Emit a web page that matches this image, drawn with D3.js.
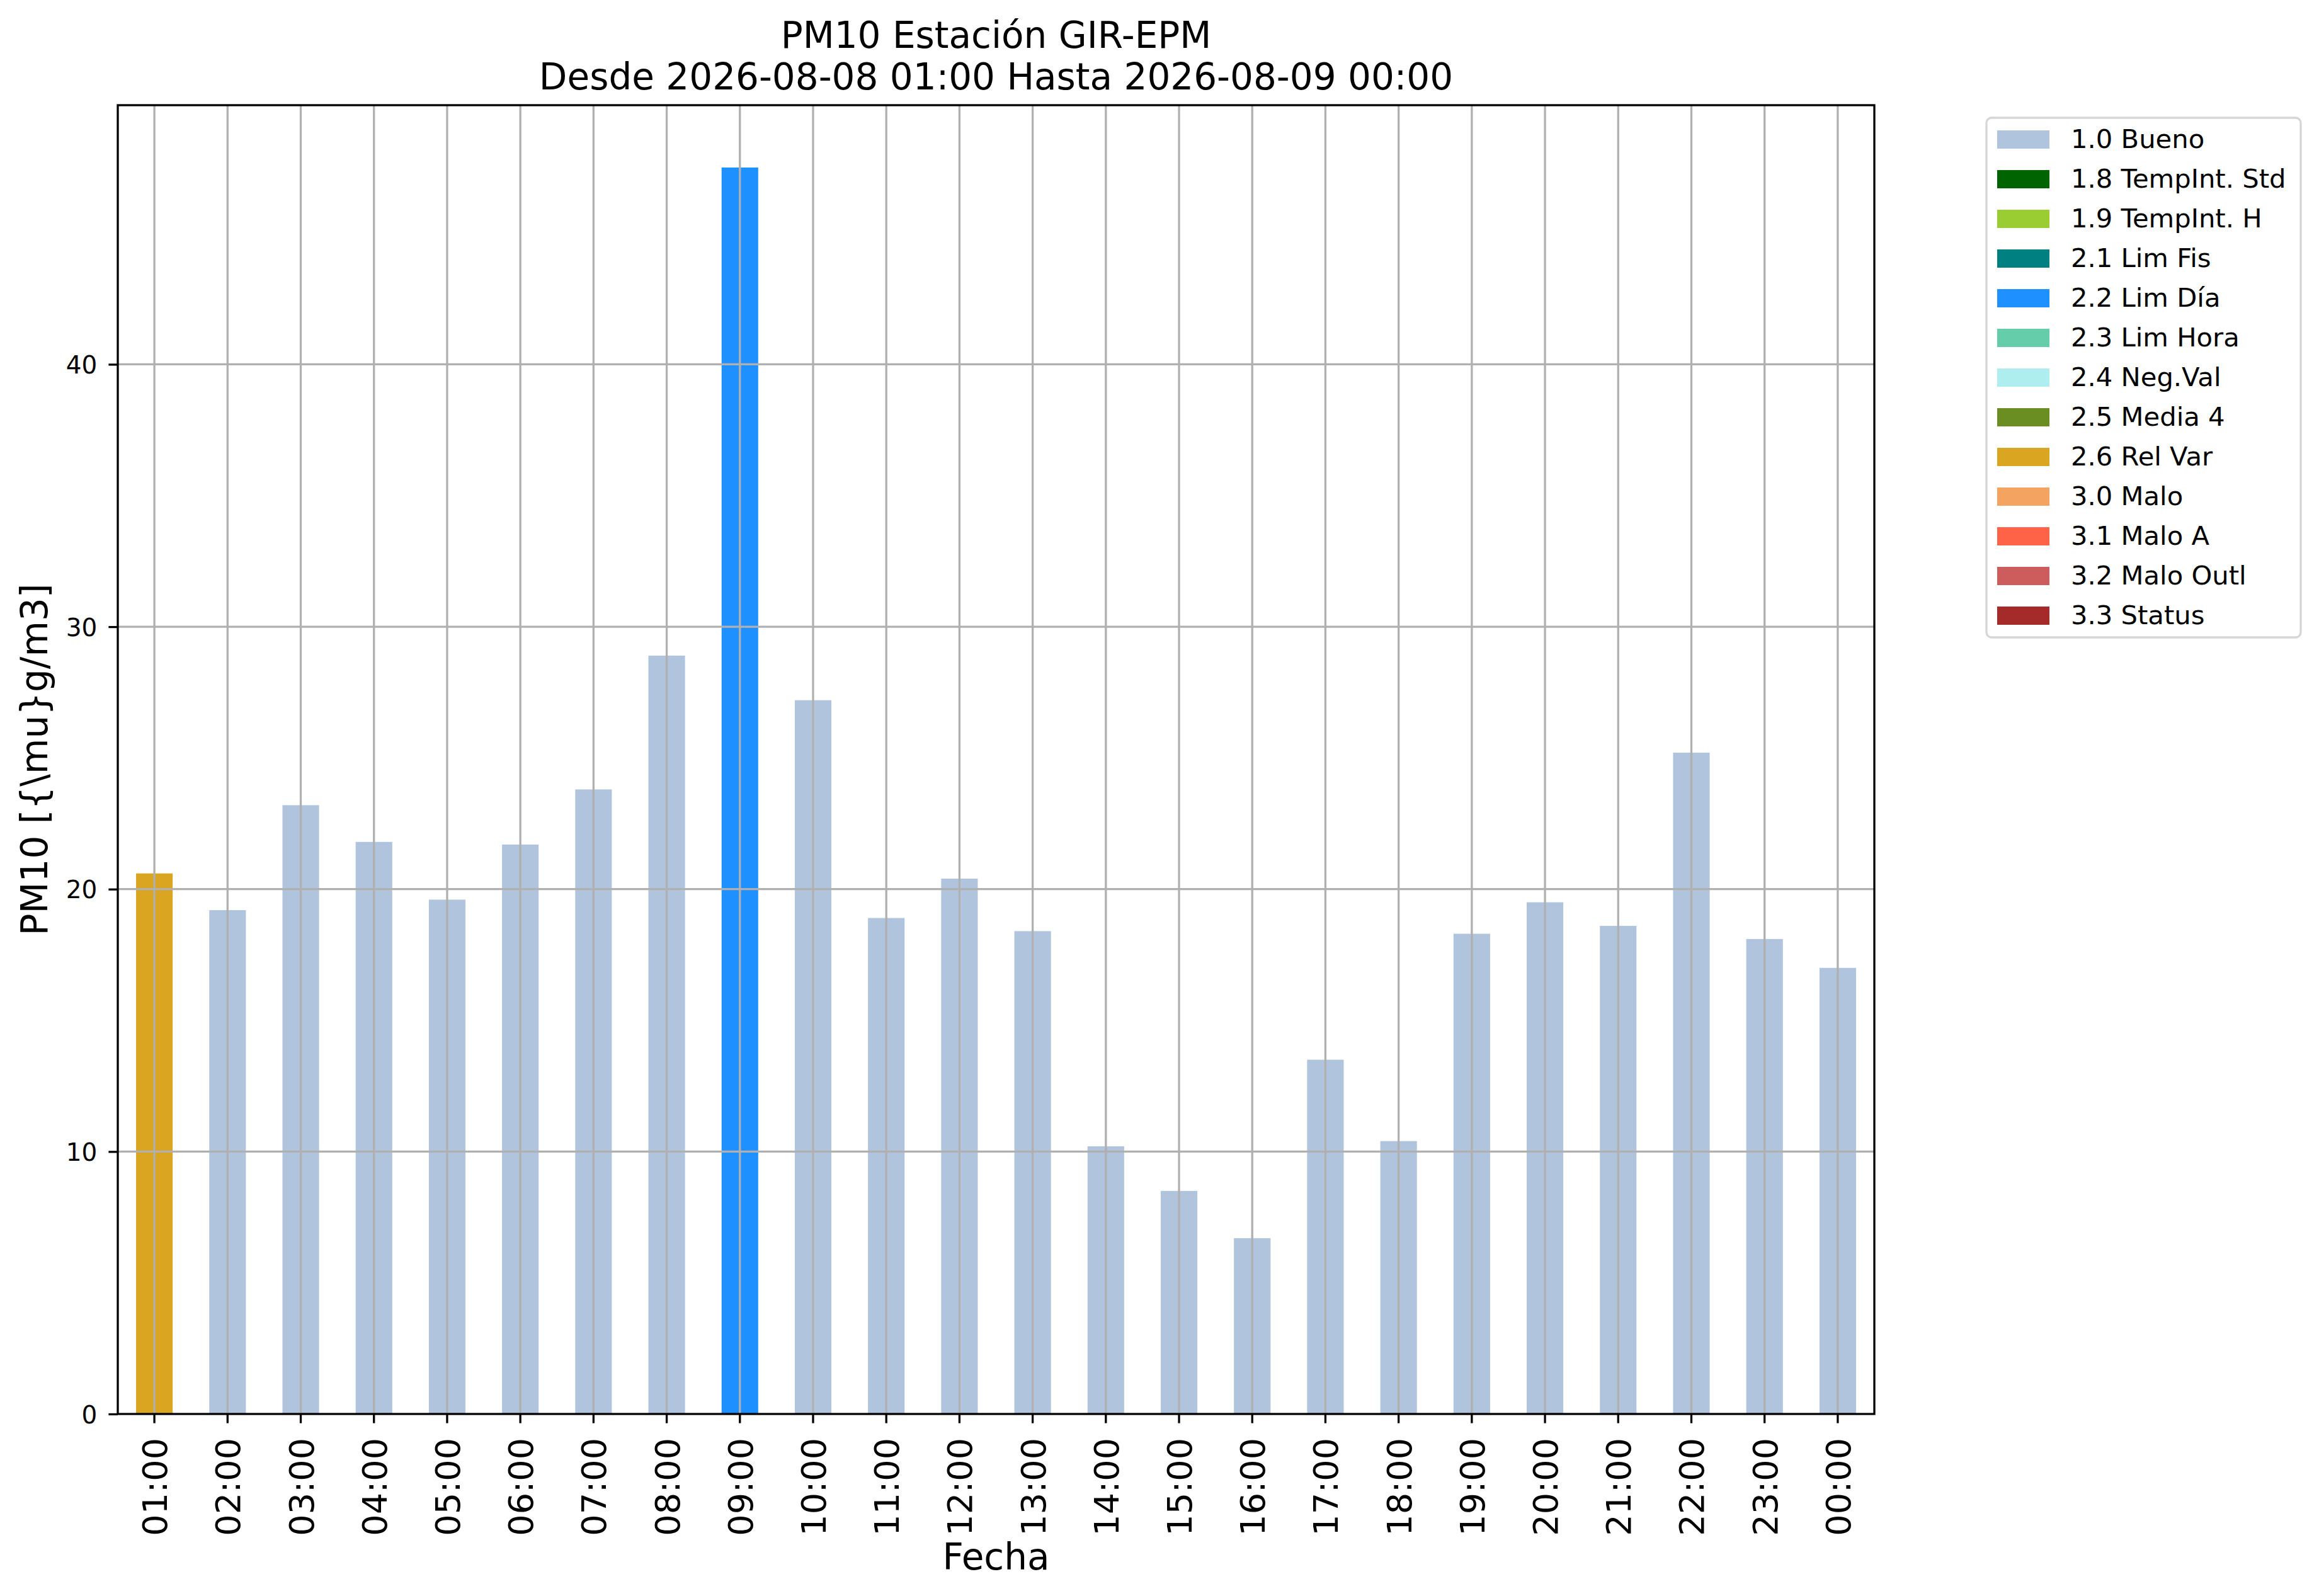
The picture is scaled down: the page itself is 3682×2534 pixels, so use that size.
<!DOCTYPE html>
<html>
<head>
<meta charset="utf-8">
<script src="https://d3js.org/d3.v7.min.js"></script>
<style>
    body { margin: 0; background: #fff; }
    text { font-family: "DejaVu Sans", sans-serif; fill: #000; }
</style>
</head>
<body>
<svg id="chart" width="3682" height="2534"></svg>
<script>

// hourly labels on the x axis
let hours = ["01:00", "02:00", "03:00", "04:00", "05:00", "06:00", "07:00", "08:00",
             "09:00", "10:00", "11:00", "12:00", "13:00", "14:00", "15:00", "16:00",
             "17:00", "18:00", "19:00", "20:00", "21:00", "22:00", "23:00", "00:00"];

// PM10 values
let pm10 = [20.6, 19.2, 23.2, 21.8, 19.6, 21.7, 23.8, 28.9,
            47.5, 27.2, 18.9, 20.4, 18.4, 10.2, 8.5, 6.7,
            13.5, 10.4, 18.3, 19.5, 18.6, 25.2, 18.1, 17.0];

// quality flag of each hour
let flags = ["2.6", "1.0", "1.0", "1.0", "1.0", "1.0", "1.0", "1.0",
             "2.2", "1.0", "1.0", "1.0", "1.0", "1.0", "1.0", "1.0",
             "1.0", "1.0", "1.0", "1.0", "1.0", "1.0", "1.0", "1.0"];

// legend entries
let flagCodes = ["1.0", "1.8", "1.9", "2.1", "2.2", "2.3", "2.4", "2.5", "2.6", "3.0", "3.1", "3.2", "3.3"];
let flagNames = ["1.0 Bueno", "1.8 TempInt. Std", "1.9 TempInt. H", "2.1 Lim Fis", "2.2 Lim Día",
                 "2.3 Lim Hora", "2.4 Neg.Val", "2.5 Media 4", "2.6 Rel Var", "3.0 Malo",
                 "3.1 Malo A", "3.2 Malo Outl", "3.3 Status"];
let flagColors = ["#b0c4de", "#006400", "#9acd32", "#008080", "#1e90ff", "#66cdaa", "#afeeee",
                  "#6b8e23", "#daa520", "#f4a460", "#ff6347", "#cd5c5c", "#a52a2a"];

let yTicks = [0, 10, 20, 30, 40];

let margin = {top: 167, right: 3682 - 2976, bottom: 2534 - 2245, left: 187},
    width = 3682 - margin.left - margin.right,
    height = 2534 - margin.top - margin.bottom;

let svg = d3.select("#chart");

let color = d3.scaleOrdinal().domain(flagCodes).range(flagColors);

let x = d3.scaleBand()
    .domain(hours)
    .range([0, width])
    .paddingInner(0.5)
    .paddingOuter(0.25);

let y = d3.scaleLinear()
    .domain([0, d3.max(pm10) * 1.05])
    .range([height, 0]);

let g = svg.append("g")
    .attr("transform", "translate(" + margin.left + "," + margin.top + ")");

// bars
g.selectAll("rect.bar")
    .data(hours)
    .enter().append("rect")
    .attr("class", "bar")
    .attr("x", function(d) { return x(d); })
    .attr("width", x.bandwidth())
    .attr("y", function(d, i) { return y(pm10[i]); })
    .attr("height", function(d, i) { return height - y(pm10[i]); })
    .style("fill", function(d, i) { return color(flags[i]); });

// grid on top of the bars
let grid = g.append("g").attr("class", "grid");
grid.selectAll("line.vg")
    .data(hours)
    .enter().append("line")
    .attr("x1", function(d) { return x(d) + x.bandwidth() / 2; })
    .attr("x2", function(d) { return x(d) + x.bandwidth() / 2; })
    .attr("y1", 0).attr("y2", height)
    .style("stroke", "#b0b0b0").style("stroke-width", 3.3);
grid.selectAll("line.hg")
    .data(yTicks.slice(1))
    .enter().append("line")
    .attr("x1", 0).attr("x2", width)
    .attr("y1", function(d) { return y(d); })
    .attr("y2", function(d) { return y(d); })
    .style("stroke", "#b0b0b0").style("stroke-width", 3.3);

// axes
let xAxis = g.append("g")
    .attr("transform", "translate(0," + height + ")")
    .call(d3.axisBottom(x).tickSize(14.6).tickPadding(0).tickSizeOuter(0));
xAxis.select(".domain").remove();
xAxis.selectAll(".tick line").style("stroke", "#000").style("stroke-width", 3.3);
xAxis.selectAll(".tick text")
    .attr("transform", "translate(0,38) rotate(-90)")
    .attr("x", 0).attr("y", 20).attr("dy", null)
    .attr("text-anchor", "end")
    .style("font-size", "54px")
    .style("font-family", "'DejaVu Sans', sans-serif");

let yAxis = g.append("g")
    .call(d3.axisLeft(y).tickValues(yTicks).tickSize(14.6).tickPadding(18).tickSizeOuter(0));
yAxis.select(".domain").remove();
yAxis.selectAll(".tick line").style("stroke", "#000").style("stroke-width", 3.3);
yAxis.selectAll(".tick text")
    .attr("dy", "0.36em")
    .style("font-size", "39px")
    .style("font-family", "'DejaVu Sans', sans-serif");

// frame
g.append("rect")
    .attr("width", width).attr("height", height)
    .style("fill", "none").style("stroke", "#000").style("stroke-width", 3.3);

// titles
let cx = margin.left + width / 2;
svg.append("text").attr("x", cx).attr("y", 76).attr("text-anchor", "middle")
    .style("font-size", "58px").text("PM10 Estación GIR-EPM");
svg.append("text").attr("x", cx).attr("y", 142).attr("text-anchor", "middle")
    .style("font-size", "58px").text("Desde 2026-08-08 01:00 Hasta 2026-08-09 00:00");

svg.append("text").attr("x", cx).attr("y", 2492).attr("text-anchor", "middle")
    .style("font-size", "58px").text("Fecha");

svg.append("text")
    .attr("transform", "translate(75," + (margin.top + height / 2) + ") rotate(-90)")
    .attr("text-anchor", "middle")
    .style("font-size", "58px")
    .text("PM10 [{\\mu}g/m3]");

// legend
let legend = svg.append("g").attr("transform", "translate(3154,187)");
legend.append("rect")
    .attr("width", 499).attr("height", 825)
    .attr("rx", 8).attr("ry", 8)
    .style("fill", "#fff").style("stroke", "#d6d6d6").style("stroke-width", 3.3);

let item = legend.selectAll("g.item")
    .data(flagNames)
    .enter().append("g")
    .attr("class", "item")
    .attr("transform", function(d, i) { return "translate(0," + (20 + i * 63) + ")"; });
item.append("rect")
    .attr("x", 17).attr("width", 83).attr("height", 29)
    .style("fill", function(d, i) { return flagColors[i]; });
item.append("text")
    .attr("x", 134).attr("y", 28)
    .style("font-size", "41.7px")
    .text(function(d) { return d; });

</script>
</body>
</html>
